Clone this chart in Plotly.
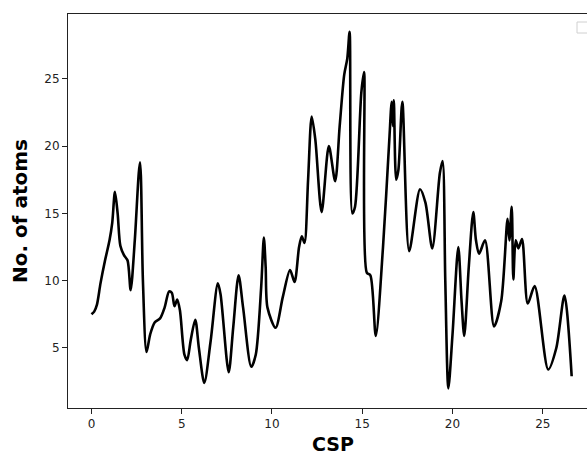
import plotly.graph_objects as go

csp = [0.0, 0.15, 0.3, 0.5, 0.75, 1.0, 1.15, 1.3, 1.45, 1.6, 1.8, 2.0, 2.17, 2.4, 2.62, 2.69, 2.74, 2.85,
       3.05, 3.25, 3.5, 3.8, 4.05, 4.3, 4.45, 4.6, 4.75, 4.9, 5.15, 5.3, 5.5, 5.75, 5.95, 6.25, 6.6, 7.0,
       7.15, 7.6, 7.85, 8.15, 8.4, 8.85, 9.1, 9.4, 9.55, 9.65, 9.75, 10.2, 10.6, 11.0, 11.25, 11.5, 11.65,
       11.8, 12.0, 12.2, 12.4, 12.75, 13.15, 13.5, 13.75, 14.0, 14.17, 14.3, 14.45, 14.6, 14.95, 15.1,
       15.25, 15.45, 15.75, 16.15, 16.5, 16.63, 16.7, 16.75, 16.88, 17.0, 17.22, 17.6, 18.2, 18.5, 18.88,
       19.3, 19.45, 19.6, 19.77, 20.0, 20.32, 20.5, 20.65, 20.9, 21.15, 21.3, 21.47, 21.8, 22.3, 22.7,
       23.05, 23.15, 23.28, 23.37, 23.5, 23.65, 23.85, 24.17, 24.55, 25.3, 25.75, 26.2, 26.6]
atoms = [7.5, 7.7, 8.2, 9.8, 11.5, 13.0, 14.3, 16.6, 15.0, 12.6, 11.9, 11.5, 9.3, 13.0, 18.0, 18.8, 17.7, 10.0,
         4.7, 6.0, 6.9, 7.2, 8.0, 9.2, 9.1, 8.1, 8.6, 7.8, 4.5, 4.1, 5.6, 7.1, 5.0, 2.4, 5.5, 9.8,
         9.0, 3.2, 6.5, 10.4, 8.0, 3.6, 4.5, 9.5, 13.2, 11.0, 8.0, 6.5, 8.8, 10.8, 9.9, 12.5, 13.3,
         12.8, 17.5, 22.2, 20.5, 15.1, 20.0, 17.4, 21.5, 25.3, 26.5, 28.5, 15.0, 15.5, 24.0, 25.5,
         10.6, 10.4, 5.9, 12.5, 20.5, 23.3, 21.5, 23.4, 17.5, 18.2, 23.3, 12.2, 16.8, 15.8, 12.4,
         18.0, 18.9, 10.0, 2.0, 6.0, 12.5, 8.5, 5.9, 11.0, 15.1, 13.0, 12.0, 13.0, 6.6, 8.5,
         14.6, 13.0, 15.5, 10.1, 13.0, 12.4, 13.1, 8.3, 9.6, 3.4, 5.0, 8.9, 2.9]

x_ticks = [0, 5, 10, 15, 20, 25]
y_ticks = [5, 10, 15, 20, 25]

fig = go.Figure()
fig.add_trace(go.Scatter(x=csp, y=atoms, mode="lines",
                         line=dict(color="black", width=2.6, shape="spline", smoothing=0.8),
                         showlegend=False))

W, H = 587, 455
L, R, T, B = 68, 0, 14, 47
pw, ph = W - L - R, H - T - B

fig.update_layout(
    width=W, height=H,
    margin=dict(l=L, r=R, t=T, b=B, pad=0),
    paper_bgcolor="white", plot_bgcolor="white",
    font=dict(family="DejaVu Sans", size=12, color="#222"),
    showlegend=False,
    xaxis=dict(range=[-1.30, 27.45], tickvals=x_ticks, ticks="outside", ticklen=5, tickwidth=1,
               tickcolor="#222", showline=True, linecolor="#222", linewidth=1, mirror=True,
               showgrid=False, zeroline=False, tickfont=dict(size=12, color="#222")),
    yaxis=dict(range=[0.54, 29.82], tickvals=y_ticks, ticks="outside", ticklen=5, tickwidth=1,
               tickcolor="#222", showline=True, linecolor="#222", linewidth=1, mirror=False,
               showgrid=False, zeroline=False, tickfont=dict(size=12, color="#222")),
)

fig.add_annotation(text="<b>CSP</b>", xref="paper", yref="paper",
                   x=(333 - L) / pw, y=(408 - 444) / ph, xanchor="center", yanchor="middle",
                   showarrow=False, font=dict(size=19, color="black", family="DejaVu Sans"))
fig.add_annotation(text="<b>No. of atoms</b>", xref="paper", yref="paper", textangle=-90,
                   x=(20 - L) / pw, y=0.5, xanchor="center", yanchor="middle",
                   showarrow=False, font=dict(size=20, color="black", family="DejaVu Sans"))

# empty legend frame at top right (partially outside the picture)
fig.add_shape(type="rect", xref="paper", yref="paper",
              x0=(577 - L) / pw, x1=(600 - L) / pw, y0=(408 - 33) / ph, y1=(408 - 22) / ph,
              line=dict(color="#d0d0d0", width=1), fillcolor="white", layer="above")

fig.write_html("out.html", config={"displayModeBar": False},
               post_script="document.body.style.margin='0px';document.body.style.overflow='hidden';")
